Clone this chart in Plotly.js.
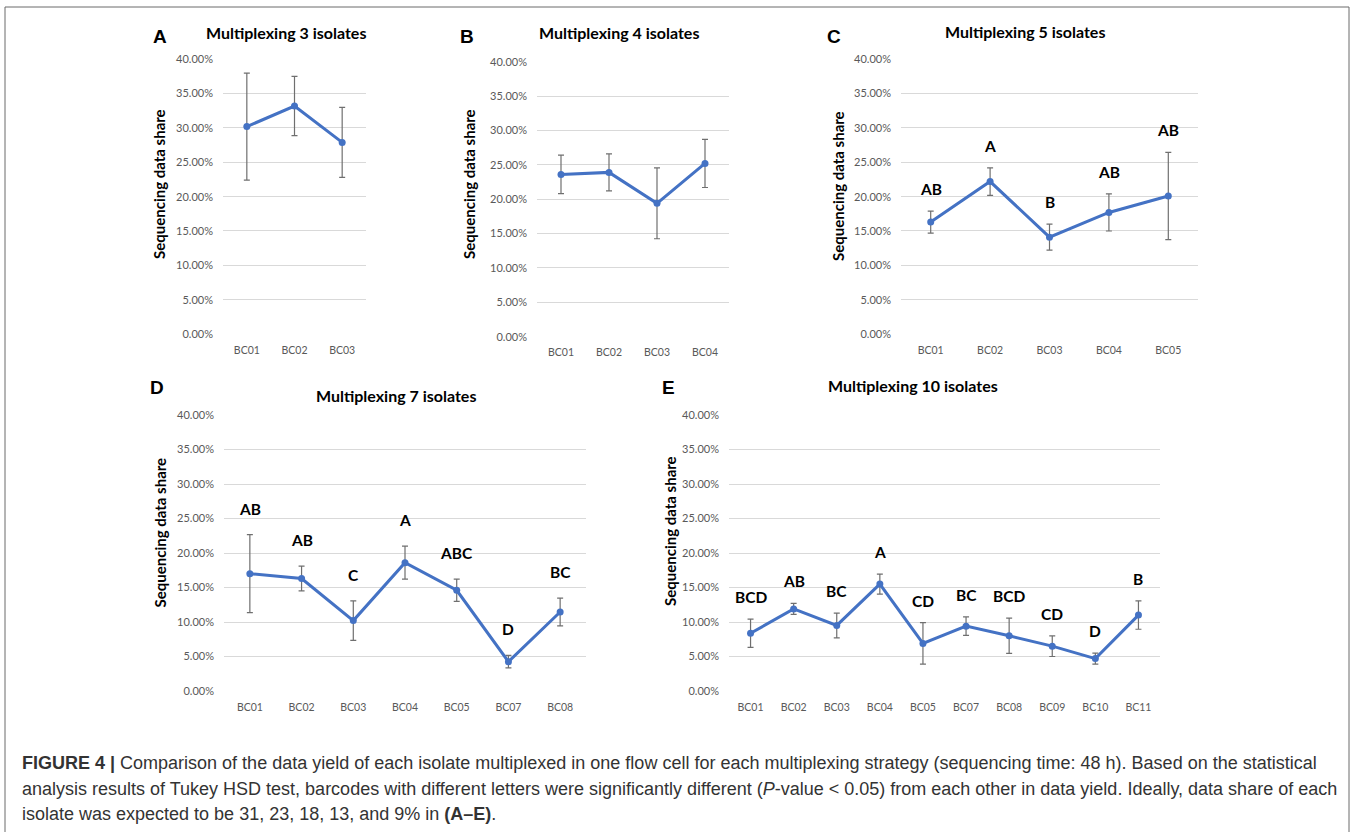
<!DOCTYPE html>
<html>
<head>
<meta charset="utf-8">
<script src="https://cdn.plot.ly/plotly-3.0.1.min.js"></script>
<style>
html,body{margin:0;padding:0;background:#fff;}
#chart{width:1354px;height:832px;}
</style>
</head>
<body>
<div id="chart"></div>
<script>
// ---------- data (percent) ----------
const catsA = ['BC01','BC02','BC03'];
const valsA = [30.2, 33.2, 27.9];
const errA  = [7.8, 4.3, 5.1];

const catsB = ['BC01','BC02','BC03','BC04'];
const valsB = [23.6, 23.9, 19.4, 25.2];
const errB  = [2.8, 2.7, 5.15, 3.5];

const catsC = ['BC01','BC02','BC03','BC04','BC05'];
const valsC = [16.3, 22.2, 14.1, 17.7, 20.1];
const errC  = [1.6, 2.0, 1.9, 2.7, 6.35];
const lettersC = ['AB','A','B','AB','AB'];

const catsD = ['BC01','BC02','BC03','BC04','BC05','BC07','BC08'];
const valsD = [17.0, 16.3, 10.2, 18.6, 14.6, 4.25, 11.45];
const errD  = [5.65, 1.8, 2.85, 2.4, 1.6, 0.9, 2.0];
const lettersD = ['AB','AB','C','A','ABC','D','BC'];

const catsE = ['BC01','BC02','BC03','BC04','BC05','BC07','BC08','BC09','BC10','BC11'];
const valsE = [8.36, 11.9, 9.5, 15.5, 6.9, 9.4, 8.0, 6.5, 4.7, 11.0];
const errE  = [2.05, 0.8, 1.8, 1.45, 3.0, 1.35, 2.55, 1.5, 0.8, 2.05];
const lettersE = ['BCD','AB','BC','A','CD','BC','BCD','CD','D','B'];

const panelTitles = ['Multiplexing 3 isolates','Multiplexing 4 isolates','Multiplexing 5 isolates','Multiplexing 7 isolates','Multiplexing 10 isolates'];
const panelLetters = ['A','B','C','D','E'];
const yTitle = 'Sequencing data share';
const captionLines = [
  '<b>FIGURE 4 |</b> Comparison of the data yield of each isolate multiplexed in one flow cell for each multiplexing strategy (sequencing time: 48 h). Based on the statistical',
  'analysis results of Tukey HSD test, barcodes with different letters were significantly different (<i>P</i>-value &lt; 0.05) from each other in data yield. Ideally, data share of each',
  'isolate was expected to be 31, 23, 18, 13, and 9% in <b>(A–E)</b>.'
];

// ---------- layout helpers ----------
const W = 1354, H = 832;
const PX = p => p / W;
const PY = p => 1 - p / H;

const BLUE = '#4472C4';
const FONT = 'Lato, "Open Sans", sans-serif';
const panels = [
  {cats: catsA, vals: valsA, err: errA, letters: null,     x: [223, 366], y: [334, 59.3],
   title: [285.7, 32.7], letter: [159.7, 36.3], ytitle: [159, 184], lshift: 22},
  {cats: catsB, vals: valsB, err: errB, letters: null,     x: [537, 729], y: [336.7, 61.7],
   title: [619, 32.3], letter: [467, 36.3], ytitle: [469, 184], lshift: 22},
  {cats: catsC, vals: valsC, err: errC, letters: lettersC, x: [901, 1198], y: [334, 59.3],
   title: [1025, 31.7], letter: [834, 36.3], ytitle: [838, 186], lshift: 22},
  {cats: catsD, vals: valsD, err: errD, letters: lettersD, x: [224, 586], y: [691, 415],
   title: [396, 395.7], letter: [157, 387], ytitle: [159, 532.5], lshift: 26},
  {cats: catsE, vals: valsE, err: errE, letters: lettersE, x: [729, 1160], y: [691, 415],
   title: [912.7, 385.7], letter: [668, 387], ytitle: [670, 531], lshift: 22}
];

const traces = [];
const annotations = [];
const layout = {
  width: W, height: H,
  margin: {l: 0, r: 0, t: 0, b: 0},
  paper_bgcolor: '#fff', plot_bgcolor: '#fff',
  showlegend: false,
  font: {family: FONT, color: '#595959'},
  annotations: annotations,
  shapes: [{
    type: 'rect', xref: 'paper', yref: 'paper',
    x0: PX(5), x1: PX(1349), y0: -0.05, y1: PY(7),
    line: {color: '#6b6b6b', width: 1}, fillcolor: 'rgba(0,0,0,0)'
  }]
};

panels.forEach((p, i) => {
  const n = i === 0 ? '' : String(i + 1);
  const xa = 'x' + n, ya = 'y' + n;
  traces.push({
    type: 'scatter', mode: 'lines+markers',
    x: p.cats, y: p.vals, xaxis: xa, yaxis: ya,
    line: {color: BLUE, width: 3},
    marker: {color: BLUE, size: 7},
    error_y: {type: 'data', array: p.err, visible: true, color: '#6f6f6f', thickness: 1.2, width: 3},
    hoverinfo: 'skip', cliponaxis: false
  });
  layout['xaxis' + n] = {
    domain: [PX(p.x[0]), PX(p.x[1])], anchor: ya,
    type: 'category', range: [-0.5, p.cats.length - 0.5],
    showgrid: false, zeroline: false, showline: false, ticks: '',
    ticklabelstandoff: 8,
    tickfont: {family: FONT, size: 10.5, color: '#595959'},
    fixedrange: true
  };
  layout['yaxis' + n] = {
    domain: [PY(p.y[0]), PY(p.y[1])], anchor: xa,
    range: [0, 40], dtick: 5, tick0: 0, tickformat: '.2f', ticksuffix: '%',
    showgrid: true, gridcolor: '#d9d9d9', gridwidth: 1,
    zeroline: false, showline: false, ticks: '',
    ticklabelstandoff: 9,
    tickfont: {family: FONT, size: 11, color: '#595959'},
    fixedrange: true
  };
  annotations.push({
    xref: 'paper', yref: 'paper', x: PX(p.title[0]), y: PY(p.title[1]),
    xanchor: 'center', yanchor: 'middle', showarrow: false,
    text: '<b>' + panelTitles[i] + '</b>',
    font: {family: FONT, size: 16, color: '#000'}
  });
  annotations.push({
    xref: 'paper', yref: 'paper', x: PX(p.letter[0]), y: PY(p.letter[1]),
    xanchor: 'center', yanchor: 'middle', showarrow: false,
    text: '<b>' + panelLetters[i] + '</b>',
    font: {family: '"Liberation Sans", Arial, sans-serif', size: 19, color: '#000'}
  });
  annotations.push({
    xref: 'paper', yref: 'paper', x: PX(p.ytitle[0]), y: PY(p.ytitle[1]),
    xanchor: 'center', yanchor: 'middle', showarrow: false, textangle: -90,
    text: '<b>' + yTitle + '</b>',
    font: {family: FONT, size: 15, color: '#000'}
  });
  if (p.letters) {
    p.letters.forEach((t, k) => {
      annotations.push({
        xref: xa, yref: ya, x: p.cats[k], y: p.vals[k] + p.err[k],
        xanchor: 'center', yanchor: 'middle', yshift: p.lshift, showarrow: false,
        text: '<b>' + t + '</b>',
        font: {family: FONT, size: 15.5, color: '#000'}
      });
    });
  }
});

const capY = [763, 789, 814];
captionLines.forEach((t, k) => {
  annotations.push({
    xref: 'paper', yref: 'paper', x: PX(20), y: PY(capY[k]),
    xanchor: 'left', yanchor: 'middle', showarrow: false, align: 'left',
    text: t,
    font: {family: '"Liberation Sans", Arial, sans-serif', size: 18, color: '#333333'}
  });
});

Plotly.newPlot('chart', traces, layout, {displayModeBar: false, staticPlot: true});
</script>
</body>
</html>
